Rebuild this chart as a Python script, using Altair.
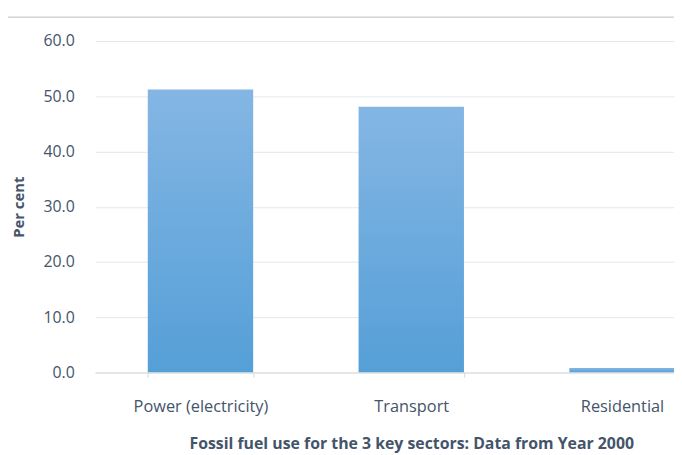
import altair as alt
import pandas as pd

sectors = ["Power (electricity)", "Transport", "Residential"]
percent = [51.2, 48.1, 0.8]
y_ticks = [0, 10, 20, 30, 40, 50, 60]

df = pd.DataFrame({"sector": sectors, "pct": percent})

font = "Open Sans"
txt = "#44546A"
grid = "#E3E7EC"

gradient = alt.LinearGradient(
    gradient="linear",
    stops=[alt.GradientStop(color="#84B6E4", offset=0),
           alt.GradientStop(color="#559FD7", offset=1)],
    x1=0, x2=0, y1=0, y2=1,
)

bars = alt.Chart(df).mark_bar(color=gradient, clip=True).encode(
    x=alt.X("sector:N", sort=sectors,
            scale=alt.Scale(range=[0, 639], paddingInner=0.5, paddingOuter=0.25),
            axis=alt.Axis(title="Fossil fuel use for the 3 key sectors: Data from Year 2000",
                          labelAngle=0, labelFont=font, labelFontSize=16.5, labelColor=txt,
                          labelPadding=21, tickSize=5, tickColor="#D9D9D9",
                          domainColor="#D9D9D9", tickBand="extent",
                          titleFont=font, titleFontSize=16, titleFontWeight="bold",
                          titleColor=txt, titlePadding=21, titleX=319.5)),
    y=alt.Y("pct:Q", scale=alt.Scale(domain=[0, 60], nice=False),
            axis=alt.Axis(title="Per cent", values=y_ticks, format=".1f",
                          labelFont=font, labelFontSize=16, labelColor=txt,
                          labelPadding=21, tickSize=0, domain=False,
                          gridColor=grid, titleFont=font, titleFontSize=15,
                          titleFontWeight="bold", titleColor=txt, titlePadding=17)),
)

border = alt.Chart(df).mark_rule(color="#D9D9D9", strokeWidth=1, clip=False).encode(
    x=alt.value(-96), x2=alt.value(600), y=alt.value(-24)
)

chart = alt.layer(border, bars).properties(
    width=585, height=335,
    autosize=alt.AutoSizeParams(type="none"),
    padding={"left": 88, "top": 31, "right": 0, "bottom": 80},
).configure_view(stroke=None)

chart.save("out.html", embed_options={"renderer": "svg", "actions": False})
